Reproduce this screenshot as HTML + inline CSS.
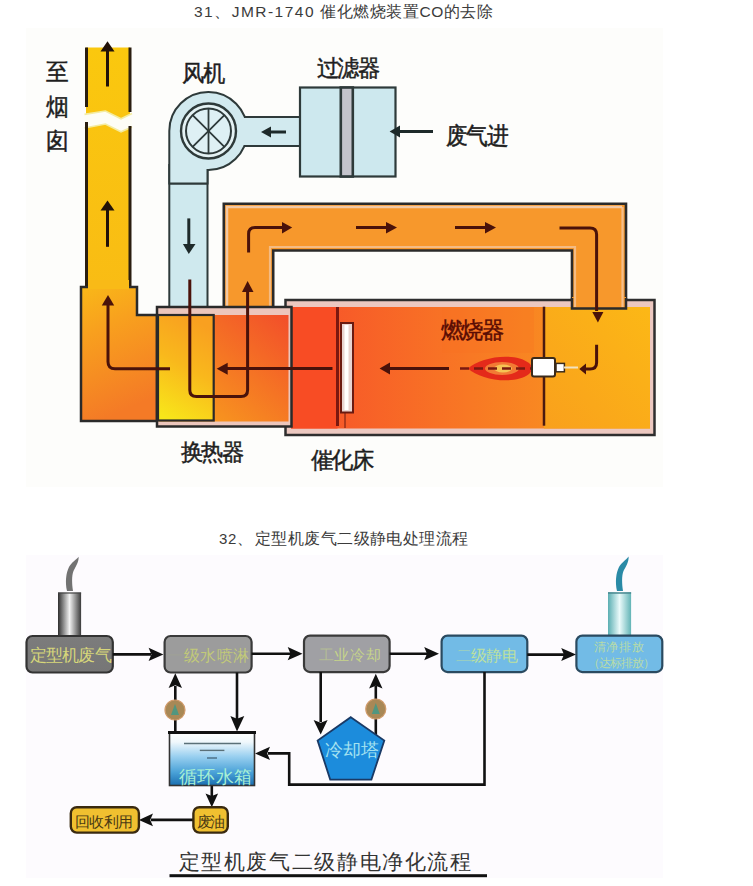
<!DOCTYPE html>
<html><head><meta charset="utf-8">
<style>
html,body{margin:0;padding:0;background:#fff;width:753px;height:886px;overflow:hidden}
svg{display:block;position:absolute;left:0;top:0}
text{font-family:"Liberation Sans",sans-serif}
.serif{font-family:"Liberation Serif",serif}
</style></head><body>
<svg width="753" height="886" viewBox="0 0 753 886">
<defs>
  <linearGradient id="gChim" x1="0" y1="0" x2="0" y2="1">
    <stop offset="0" stop-color="#fac80e"/><stop offset="1" stop-color="#f9bc14"/>
  </linearGradient>
  <linearGradient id="gHous" x1="0" y1="0" x2="0.25" y2="1">
    <stop offset="0" stop-color="#f9b818"/><stop offset="0.35" stop-color="#f8a01e"/><stop offset="1" stop-color="#f47a26"/>
  </linearGradient>
  <linearGradient id="gCore" x1="0.5" y1="0" x2="0.2" y2="1">
    <stop offset="0" stop-color="#f9a020"/><stop offset="0.45" stop-color="#f9b81c"/><stop offset="1" stop-color="#f8e61a"/>
  </linearGradient>
  <linearGradient id="gHexR" x1="0" y1="1" x2="1" y2="0">
    <stop offset="0" stop-color="#f9a81c"/><stop offset="1" stop-color="#f24e2a"/>
  </linearGradient>
  <linearGradient id="gCat" x1="0" y1="0" x2="1" y2="0">
    <stop offset="0" stop-color="#f7502a"/><stop offset="1" stop-color="#f9a01e"/>
  </linearGradient>
  <linearGradient id="gBurn" x1="0" y1="1" x2="1" y2="0">
    <stop offset="0" stop-color="#f9a01c"/><stop offset="1" stop-color="#fcb816"/>
  </linearGradient>
  <linearGradient id="gGray1" x1="0" y1="0" x2="0" y2="1">
    <stop offset="0" stop-color="#7c7c7c"/><stop offset="1" stop-color="#767676"/>
  </linearGradient>
  <linearGradient id="gCyl" x1="0" y1="0" x2="1" y2="0">
    <stop offset="0" stop-color="#2e2e2e"/><stop offset="0.5" stop-color="#f2f2f2"/><stop offset="1" stop-color="#3a3a3a"/>
  </linearGradient>
  <linearGradient id="gCyl2" x1="0" y1="0" x2="1" y2="0">
    <stop offset="0" stop-color="#5aaeb2"/><stop offset="0.5" stop-color="#eafafa"/><stop offset="1" stop-color="#62b4b6"/>
  </linearGradient>
  <linearGradient id="gTank" x1="0" y1="0" x2="0" y2="1">
    <stop offset="0" stop-color="#ffffff"/><stop offset="0.18" stop-color="#f0f8fc"/><stop offset="0.45" stop-color="#9ad0f0"/><stop offset="0.75" stop-color="#4aa2d8"/><stop offset="1" stop-color="#1a6eb0"/>
  </linearGradient>
</defs>

<!-- image backgrounds -->
<rect x="26" y="28" width="637" height="459" fill="#fdfdfb"/>
<rect x="26" y="555" width="637" height="323" fill="#fdfbfe"/>

<!-- titles -->
<text x="194" y="17" font-size="15.5" fill="#3b3b3b" textLength="119.5" lengthAdjust="spacing">31、JMR-1740</text>
<text x="320" y="17" font-size="15.5" fill="#3b3b3b" textLength="173" lengthAdjust="spacing">催化燃烧装置CO的去除</text>
<text x="219" y="544" font-size="15" fill="#3b3b3b" textLength="33" lengthAdjust="spacing">32、</text>
<text x="255" y="544" font-size="15.5" fill="#3b3b3b" textLength="213" lengthAdjust="spacing">定型机废气二级静电处理流程</text>

<!-- ============ TOP DIAGRAM ============ -->
<!-- chimney -->
<rect x="86" y="47.5" width="44" height="241" fill="url(#gChim)"/>
<!-- break -->
<path d="M84.5 114.4 L105.4 111 L121 118.8 L132 113.5 L132 127 L121 131.8 L105.4 124 L84.5 128 Z" fill="#fdfdf6"/>
<path d="M84.5 114.4 L105.4 111 L121 118.8 L132 113.5 M132 127 L121 131.8 L105.4 124 L84.5 128" fill="none" stroke="#f4eca0" stroke-width="1.6"/>
<line x1="86.5" y1="47.5" x2="86.5" y2="107" stroke="#2a1e10" stroke-width="3"/>
<line x1="130" y1="47.5" x2="130" y2="112" stroke="#2a1e10" stroke-width="3"/>
<line x1="86.5" y1="122" x2="86.5" y2="288" stroke="#2a1e10" stroke-width="3"/>
<line x1="130" y1="126" x2="130" y2="288" stroke="#2a1e10" stroke-width="3"/>

<!-- left housing -->
<path d="M81 287 L137 287 L137 315 L157 315 L157 421 L81 421 Z" fill="url(#gHous)" stroke="#2a2a2a" stroke-width="2.5"/>
<rect x="88" y="280" width="41" height="9" fill="#f9ba17"/>

<!-- blue duct from fan -->
<rect x="169.3" y="165" width="38.2" height="143" fill="#cfe9ee" stroke="#2e3a3a" stroke-width="2"/>
<line x1="169.3" y1="183.5" x2="207.5" y2="183.5" stroke="#2e3a3a" stroke-width="2"/>

<!-- orange loop duct -->
<path d="M223.8 308 L223.8 203.8 L626 203.8 L626 308.5 L572 308.5 L572 250.5 L273.2 250.5 L273.2 308 Z" fill="#f7982c" stroke="#2a2a2a" stroke-width="2.6"/>
<path d="M227 306 L227 207 L622 207" fill="none" stroke="#f2c8a4" stroke-width="2.5"/>
<path d="M270 306 L270 247 L575 247 L575 306" fill="none" stroke="#f3c49a" stroke-width="2.2" opacity="0.8"/>
<path d="M622.5 207 L622.5 306" fill="none" stroke="#f2c8a4" stroke-width="2.2" opacity="0.8"/>

<!-- catalytic box -->
<rect x="285.5" y="300" width="369" height="135" fill="#ecc8c0" stroke="#2e2e2e" stroke-width="2.5"/>
<rect x="291" y="307" width="359" height="121.5" fill="url(#gCat)"/>
<rect x="291" y="307" width="46.5" height="121.5" fill="#f84c24"/>
<rect x="544" y="307" width="106" height="121.5" fill="url(#gBurn)"/>
<rect x="442" y="307" width="92" height="46" fill="#f7701f" opacity="0.25"/>
<!-- right duct bottom into box -->
<rect x="572" y="297" width="54" height="11.5" fill="#f7982c"/>
<line x1="575" y1="297" x2="575" y2="307" stroke="#f3c49a" stroke-width="2.2" opacity="0.8"/><line x1="622.5" y1="297" x2="622.5" y2="307" stroke="#f2c8a4" stroke-width="2.2" opacity="0.8"/>
<path d="M572 298 L572 308.5 L626 308.5 L626 298" fill="none" stroke="#2a2a2a" stroke-width="2.5"/>
<line x1="337.5" y1="307" x2="337.5" y2="426" stroke="#7a1810" stroke-width="3"/>
<line x1="544" y1="306.7" x2="544" y2="425.7" stroke="#4a1a10" stroke-width="2.5"/>
<!-- catalyst element -->
<rect x="341" y="323" width="12" height="89.5" fill="#e8d4d0" stroke="#6a1a10" stroke-width="2"/>
<rect x="344.5" y="325" width="4" height="85" fill="#fff"/>
<line x1="345" y1="413" x2="345" y2="428" stroke="#6a1a10" stroke-width="1"/>

<!-- heat exchanger -->
<rect x="157" y="307" width="134.5" height="119.5" fill="#ecc6bc" stroke="#2a2a2a" stroke-width="2.5"/>
<rect x="158.5" y="315" width="130" height="106.5" fill="url(#gHexR)"/>
<rect x="158" y="315" width="55.7" height="105.5" fill="url(#gCore)" stroke="#2a2a2a" stroke-width="2.2"/>

<!-- burner -->
<path d="M468 368.5 C480 357, 514 351.5, 529 363 C532.5 366, 532.5 371, 529 374 C514 385.5, 480 380, 468 368.5 Z" fill="#e42a1a"/>
<ellipse cx="502" cy="368.5" rx="17" ry="6.5" fill="#f27a34"/>
<ellipse cx="503" cy="368.5" rx="9" ry="4" fill="#f6c454"/>
<line x1="460" y1="368.5" x2="532" y2="368.5" stroke="#7a1a10" stroke-width="2.5" stroke-dasharray="9 5"/>
<rect x="532" y="358" width="23" height="18.5" rx="2" fill="#fff" stroke="#3a2a1a" stroke-width="2"/>
<rect x="556" y="363.4" width="8.4" height="8.4" fill="#fff" stroke="#3a2a1a" stroke-width="1.5"/>
<line x1="564" y1="367.5" x2="578" y2="367.5" stroke="#f2e2c0" stroke-width="2"/>

<!-- fan housing -->
<path d="M169.3 183.5 L169.3 131 A39 39 0 1 1 207.5 170 L207.5 183.5 Z" fill="#d2eaef" stroke="#2e3a3a" stroke-width="2"/>
<!-- fan->filter duct -->
<rect x="238" y="118" width="63" height="27" fill="#d2eaef"/>
<line x1="244.6" y1="117" x2="301" y2="117" stroke="#2e3a3a" stroke-width="2"/>
<line x1="244.2" y1="146" x2="301" y2="146" stroke="#2e3a3a" stroke-width="2"/>
<circle cx="208.5" cy="131" r="27.5" fill="#e4f2f4" stroke="#2e3a3a" stroke-width="2.4"/>
<circle cx="208.5" cy="131" r="22.5" fill="#def0f4" stroke="#2e3a3a" stroke-width="2"/>
<g stroke="#2e3a3a" stroke-width="1.8">
<line x1="208.5" y1="108.5" x2="208.5" y2="153.5"/>
<line x1="192.6" y1="115.1" x2="224.4" y2="146.9"/>
<line x1="224.4" y1="115.1" x2="192.6" y2="146.9"/>
</g>

<!-- filter -->
<rect x="300" y="87.5" width="95.5" height="89" fill="#cde8ee" stroke="#2e3a3a" stroke-width="2.2"/>
<rect x="340.8" y="87.5" width="12" height="89" fill="#c4c4cc" stroke="#2e3a3a" stroke-width="2.6"/>

<!-- arrows top -->
<g stroke="#4a120a" stroke-width="3" fill="none">
<path d="M170 368.7 L115 368.7 Q108 368.7 108 361.7 L108 304"/>
<path d="M189.8 279.4 L189.8 390 Q189.8 396.6 196.4 396.6 L241 396.6 Q247.6 396.6 247.6 390 L247.6 292"/>
<path d="M248.6 252.6 L248.6 234 Q248.6 227.5 255 227.5 L284 227.5"/>
<line x1="356" y1="227.5" x2="388" y2="227.5"/>
<line x1="455" y1="227.5" x2="487" y2="227.5"/>
<path d="M559.5 228 L590 228 Q596.6 228 596.6 234.6 L596.6 311"/>
<path d="M596.6 344.8 L596.6 362.5 Q596.6 369 590 369 L584 369"/>
<line x1="449" y1="368.5" x2="389" y2="368.5"/>
<line x1="332.5" y1="368.5" x2="225" y2="368.5"/>
</g>
<g stroke="#1e2a2a" stroke-width="3" fill="none">
<line x1="188.8" y1="218.4" x2="188.8" y2="246"/>
<line x1="433" y1="131.5" x2="398" y2="131.5"/>
<line x1="286" y1="132" x2="268" y2="132"/>
</g>
<g fill="#4a120a">
<polygon points="108,295 101.8,305.5 114.2,305.5"/>
<polygon points="247.6,281 242,292 253.5,292"/>
<polygon points="292.2,227.5 282,222 282,233.5"/>
<polygon points="397,227.5 386,222 386,233.5"/>
<polygon points="496,227.5 485,222 485,233.5"/>
<polygon points="597.9,322.5 592.3,312 603.4,312"/>
<polygon points="579.3,369 586,363.4 586,374.6"/>
<polygon points="379.6,368.5 390,362.5 390,374.5"/>
<polygon points="216.7,368.7 227.7,362.7 227.7,374.7"/>
</g>
<g stroke="#221208" stroke-width="3">
<line x1="107.5" y1="86.5" x2="107.5" y2="50"/>
<line x1="107.5" y1="246.8" x2="107.5" y2="209"/>
</g>
<g fill="#221208">
<polygon points="107.5,41.2 100.5,51.5 114.5,51.5"/>
<polygon points="107.5,200.6 100.5,210.5 114.5,210.5"/>
</g>
<g fill="#1e2a2a">
<polygon points="188.8,254 182.9,244 195.5,244"/>
<polygon points="389.6,131.5 400,125.5 400,137.5"/>
<polygon points="261,132 271,126.5 271,137.5"/>
</g>

<!-- labels top -->
<g fill="#1e1e1e" stroke="#1e1e1e" stroke-width="0.45">
<text transform="translate(46,79.5) scale(1,1.06)" font-size="23">至</text>
<text transform="translate(46,114.5) scale(1,1.06)" font-size="23">烟</text>
<text transform="translate(46,148.5) scale(1,1.06)" font-size="23">囱</text>
<text transform="translate(181.5,81) scale(1,1.03)" textLength="43" lengthAdjust="spacing" font-size="22">风机</text>
<text transform="translate(316.5,76) scale(1,1.03)" textLength="63" lengthAdjust="spacing" font-size="22">过滤器</text>
<text transform="translate(445.5,144) scale(1,1.1)" textLength="63" lengthAdjust="spacing" font-size="22">废气进</text>
<text transform="translate(180.5,460) scale(1,1.03)" textLength="63" lengthAdjust="spacing" font-size="22">换热器</text>
<text transform="translate(310.5,468) scale(1,1.03)" textLength="63" lengthAdjust="spacing" font-size="22">催化床</text>
</g>
<text transform="translate(440.5,337.5) scale(1,1.03)" textLength="63" lengthAdjust="spacing" font-size="22" fill="#5a0c04" stroke="#5a0c04" stroke-width="0.45">燃烧器</text>

<!-- ============ BOTTOM DIAGRAM ============ -->
<!-- chimney1 + smoke -->
<path d="M67 591 C65 582, 66 573, 69 567 C72 562, 76 560, 78.6 556.8 C79 562, 75.5 567, 73.5 571 C71.5 576, 72 584, 73 591 Z" fill="#727272"/>
<rect x="58" y="592.6" width="23.1" height="43.2" fill="url(#gCyl)"/>
<line x1="58" y1="593" x2="81.1" y2="593" stroke="#444" stroke-width="1.2"/>
<!-- chimney2 + flame -->
<path d="M617 591 C615 582, 616 573, 619 567 C622 562, 626 560, 628.6 556.4 C629 562, 625.5 567, 623.5 571 C621.5 576, 622 584, 623 591 Z" fill="#2a8aa6"/>
<rect x="608" y="592.2" width="23.1" height="43.2" fill="url(#gCyl2)"/>
<line x1="608" y1="593" x2="631.1" y2="593" stroke="#4a8890" stroke-width="1.5"/>

<!-- boxes -->
<rect x="26.5" y="636" width="86.3" height="36.5" rx="6" fill="url(#gGray1)" stroke="#333" stroke-width="2.2"/>
<rect x="164.6" y="636" width="87" height="36.5" rx="6" fill="#9c9c9c" stroke="#3a3a3a" stroke-width="2.2"/>
<rect x="304" y="635.6" width="85.6" height="36.5" rx="6" fill="#a0a0a4" stroke="#3a3a3a" stroke-width="2.2"/>
<rect x="441.6" y="635.6" width="85.7" height="36.5" rx="6" fill="#72bbe6" stroke="#2a4a60" stroke-width="2.2"/>
<rect x="576.4" y="635.6" width="85.9" height="36.5" rx="6" fill="#72bbe6" stroke="#2a4a60" stroke-width="2.2"/>

<!-- connecting lines -->
<g stroke="#111" stroke-width="2.6" fill="none">
<line x1="112.8" y1="654.4" x2="151" y2="654.4"/>
<line x1="251.6" y1="653.8" x2="291" y2="653.8"/>
<line x1="389.6" y1="653.8" x2="427" y2="653.8"/>
<line x1="527.3" y1="654.6" x2="564" y2="654.6"/>
<line x1="175.3" y1="732" x2="175.3" y2="686"/>
<line x1="237" y1="672.5" x2="237" y2="719"/>
<line x1="320.7" y1="672" x2="320.7" y2="722"/>
<line x1="375.8" y1="740" x2="375.8" y2="686"/>
<path d="M484.5 672 L484.5 784.6 L289.2 784.6 L289.2 753.4 L268 753.4"/>
<line x1="211.8" y1="785.4" x2="211.8" y2="796"/>
<line x1="193.4" y1="819.9" x2="151" y2="819.9"/>
</g>
<g fill="#111">
<polygon points="163.4,654.4 148.6,647.7 151.4,654.4 148.6,660.9"/>
<polygon points="302.5,653.8 287.7,647.1 290.5,653.8 287.7,660.3"/>
<polygon points="439,653.8 424.2,647.1 427,653.8 424.2,660.3"/>
<polygon points="576,654.6 561.2,647.9 564,654.6 561.2,661.1"/>
<polygon points="175.3,673.3 168.6,688 175.3,685.2 182,688"/>
<polygon points="237,731.4 230.4,716 237,718.8 244.3,716"/>
<polygon points="320.7,734.5 313.6,720 320.7,722.8 327.6,720"/>
<polygon points="375.8,673.7 369.1,688.5 375.8,685.7 382.5,688.5"/>
<polygon points="255,753.4 270,746.7 267.2,753.4 270,760.1"/>
<polygon points="211.8,807.2 205.5,793.5 211.8,796 218.1,793.5"/>
<polygon points="138.9,819.9 153,813.6 150.2,819.9 153,826.2"/>
</g>
<!-- pumps -->
<g>
<circle cx="175" cy="710" r="10" fill="#a88856" stroke="#d09a6a" stroke-width="1.2"/>
<path d="M171 715 L175 704 L179 715 Z" fill="#3a9a8a" opacity="0.8"/>
<circle cx="375.8" cy="709" r="10" fill="#a88856" stroke="#d09a6a" stroke-width="1.2"/>
<path d="M371.8 714 L375.8 703 L379.8 714 Z" fill="#3a9a8a" opacity="0.8"/>
</g>
<!-- cooling tower -->
<polygon points="350.8,717.2 384.3,740.5 371.4,779.6 330.2,779.6 317.6,740.5" fill="#1c8cdc" stroke="#1a3a66" stroke-width="1.8"/>
<!-- tank -->
<rect x="169.5" y="732.5" width="85" height="53" fill="url(#gTank)" stroke="#333" stroke-width="1.6"/>
<line x1="168" y1="732.5" x2="256" y2="732.5" stroke="#111" stroke-width="2.8"/>
<line x1="184" y1="743.5" x2="241" y2="743.5" stroke="#5a7078" stroke-width="1.4"/>
<line x1="199.8" y1="750.4" x2="224.4" y2="750.4" stroke="#5a7078" stroke-width="1.4"/>
<line x1="207" y1="758" x2="217" y2="758" stroke="#4a6a80" stroke-width="1.4"/>
<!-- oil boxes -->
<rect x="193.4" y="807.2" width="34.4" height="25.4" rx="6" fill="#f0c030" stroke="#3a2a10" stroke-width="2.4"/>
<rect x="70.8" y="807.2" width="68.1" height="25.4" rx="6" fill="#f0c030" stroke="#3a2a10" stroke-width="2.4"/>

<!-- bottom labels -->
<text x="29.5" y="661" font-size="16.5" fill="#d6d67a" textLength="82" lengthAdjust="spacing">定型机废气</text>
<text x="167" y="660.5" font-size="16" fill="#c4cc78" textLength="82" lengthAdjust="spacing" opacity="0.95"><tspan fill-opacity="0.12">一</tspan>级水喷淋</text>
<text x="318.5" y="659.5" font-size="15" fill="#c6d48a" textLength="62" lengthAdjust="spacing"><tspan fill-opacity="0.55">工</tspan>业冷却</text>
<text x="455.5" y="661" font-size="16" fill="#bce0a0" textLength="62" lengthAdjust="spacing"><tspan fill-opacity="0.5">二</tspan>级静电</text>
<text x="593.5" y="650.5" font-size="12" fill="#b8dca8" textLength="50" lengthAdjust="spacing">清净排放</text>
<text x="588" y="666.5" font-size="11.5" fill="#b8dca8" textLength="67" lengthAdjust="spacing">（达标排放）</text>
<text x="324.5" y="756" font-size="18" fill="#a4e2f0" textLength="54.5" lengthAdjust="spacing">冷却塔</text>
<text x="179" y="782.5" font-size="18" fill="#a8f0d4" textLength="73" lengthAdjust="spacing">循环水箱</text>
<text x="196.5" y="826.5" font-size="15" fill="#4a3a14" textLength="28.5" lengthAdjust="spacing">废油</text>
<text x="75" y="826.5" font-size="15" fill="#4a3a14" textLength="58" lengthAdjust="spacing">回收利用</text>
<text x="178.5" y="868.5" font-size="21" fill="#333" textLength="292.5" lengthAdjust="spacing">定型机废气二级静电净化流程</text>
<rect x="169.5" y="874.2" width="317.5" height="3" fill="#111"/>
</svg>
</body></html>
